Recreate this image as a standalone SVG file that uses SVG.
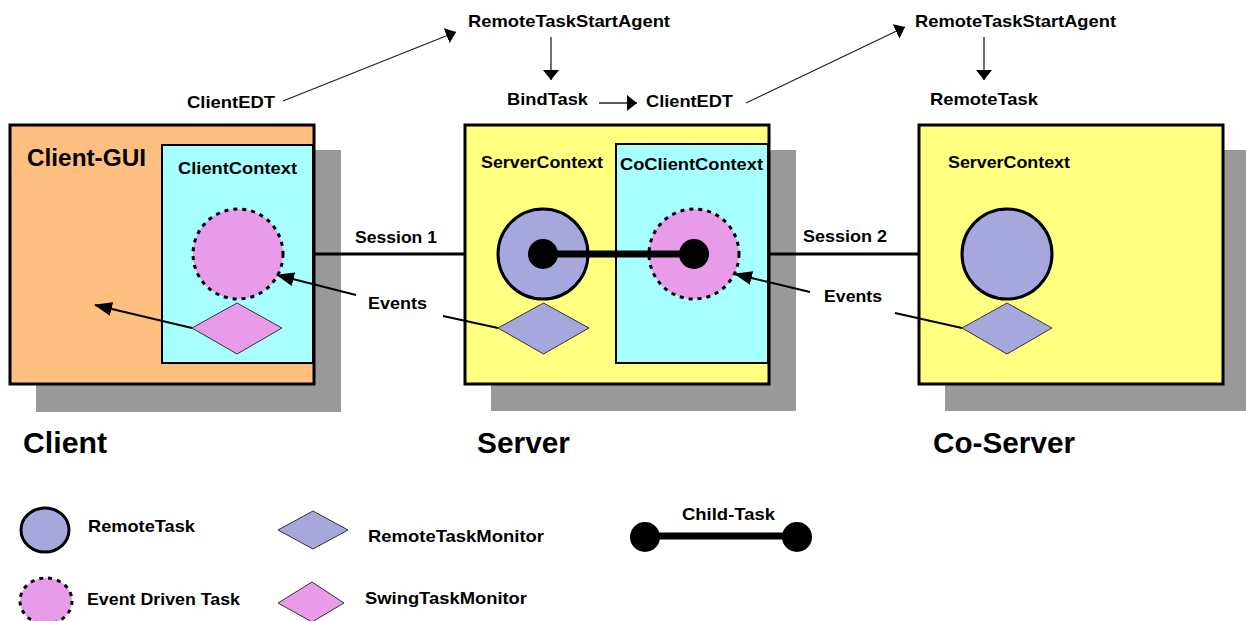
<svg xmlns="http://www.w3.org/2000/svg" width="1246" height="621" viewBox="0 0 1246 621">
<style>
text{font-family:"Liberation Sans",Arial,sans-serif;font-weight:bold;fill:#000;}
.m{font-size:17px;}
.g{font-size:30px;}
.shadow{fill:#999999;}
.box{stroke:#000;stroke-width:3;}
.inner{stroke:#000;stroke-width:2;}
.orange{fill:#FFBF80;}
.cyan{fill:#A8FFFF;}
.yellow{fill:#FFFF80;}
.rt{fill:#A6A8DD;stroke:#000;stroke-width:3;}
.edt{fill:#E89BE9;stroke:#000;stroke-width:3;stroke-dasharray:4 5;}
.rtm{fill:#A6A8DD;stroke:#333;stroke-width:1;}
.stm{fill:#E89BE9;stroke:#333;stroke-width:1;}
.thin{stroke:#222;stroke-width:1.3;fill:none;}
.ev{stroke:#000;stroke-width:2;fill:none;}
.sess{stroke:#000;stroke-width:3;fill:none;}
.child{stroke:#000;stroke-width:7;}
</style>
<defs>
<marker id="big" viewBox="0 0 18 14" refX="17" refY="7" markerWidth="18" markerHeight="14" markerUnits="userSpaceOnUse" orient="auto"><path d="M0,0 L18,7 L0,14 z" fill="#000"/></marker>
<marker id="small" viewBox="0 0 10 16" refX="10" refY="8" markerWidth="10" markerHeight="16" markerUnits="userSpaceOnUse" orient="auto"><path d="M0,0 L10,8 L0,16 z" fill="#000"/></marker>
</defs>

<g id="client">
<rect class="shadow" x="36" y="150" width="305" height="262"/>
<rect class="box orange" x="10" y="125" width="304" height="259"/>
<text x="27" y="166" font-size="24" textLength="119" lengthAdjust="spacingAndGlyphs">Client-GUI</text>
<rect class="inner cyan" x="162" y="145" width="151" height="218"/>
<text class="m" x="178" y="174" textLength="119" lengthAdjust="spacingAndGlyphs">ClientContext</text>
<circle class="edt" cx="238" cy="254" r="45"/>
<polygon class="stm" points="192,328 237,303 282,328 237,354"/>
<text class="g" x="23" y="453" textLength="84" lengthAdjust="spacingAndGlyphs">Client</text>
</g>

<g id="server">
<rect class="shadow" x="491" y="150" width="305" height="261"/>
<rect class="box yellow" x="465" y="125" width="304" height="259"/>
<text class="m" x="481" y="168" textLength="122" lengthAdjust="spacingAndGlyphs">ServerContext</text>
<rect class="inner cyan" x="616" y="144" width="152" height="219"/>
<text class="m" x="620" y="170" textLength="143" lengthAdjust="spacingAndGlyphs">CoClientContext</text>
<circle class="rt" cx="543" cy="254" r="45"/>
<circle class="edt" cx="694" cy="254" r="45"/>
<polygon class="rtm" points="498,328 543.5,303 589,328 543.5,354"/>
<text class="g" x="477" y="453" textLength="93" lengthAdjust="spacingAndGlyphs">Server</text>
</g>

<g id="coserver">
<rect class="shadow" x="945" y="150" width="305" height="261"/>
<rect class="box yellow" x="919" y="125" width="304" height="259"/>
<text class="m" x="948" y="168" textLength="122" lengthAdjust="spacingAndGlyphs">ServerContext</text>
<circle class="rt" cx="1007" cy="254" r="45"/>
<polygon class="rtm" points="962,328 1007,303 1052,328 1007,354"/>
<text class="g" x="933" y="453" textLength="142" lengthAdjust="spacingAndGlyphs">Co-Server</text>
</g>

<g id="labels">
<text class="m" x="187" y="108" textLength="88" lengthAdjust="spacingAndGlyphs">ClientEDT</text>
<text class="m" x="468" y="27" textLength="202" lengthAdjust="spacingAndGlyphs">RemoteTaskStartAgent</text>
<text class="m" x="507" y="105" textLength="81" lengthAdjust="spacingAndGlyphs">BindTask</text>
<text class="m" x="646" y="107" textLength="87" lengthAdjust="spacingAndGlyphs">ClientEDT</text>
<text class="m" x="915" y="27" textLength="201" lengthAdjust="spacingAndGlyphs">RemoteTaskStartAgent</text>
<text class="m" x="930" y="105" textLength="108" lengthAdjust="spacingAndGlyphs">RemoteTask</text>
<text class="m" x="355" y="243" textLength="82" lengthAdjust="spacingAndGlyphs">Session 1</text>
<text class="m" x="803" y="242" textLength="84" lengthAdjust="spacingAndGlyphs">Session 2</text>
<text class="m" x="368" y="309" textLength="59" lengthAdjust="spacingAndGlyphs">Events</text>
<text class="m" x="824" y="302" textLength="58" lengthAdjust="spacingAndGlyphs">Events</text>
</g>

<g id="connectors">
<line class="thin" x1="283" y1="101" x2="456" y2="32" marker-end="url(#small)"/>
<line class="thin" x1="551" y1="37" x2="551" y2="80" marker-end="url(#small)"/>
<line class="thin" x1="599" y1="103" x2="637" y2="103" marker-end="url(#small)"/>
<line class="thin" x1="746" y1="103" x2="905" y2="27" marker-end="url(#small)"/>
<line class="thin" x1="984" y1="37" x2="984" y2="80" marker-end="url(#small)"/>
<line class="sess" x1="314" y1="254" x2="465" y2="254"/>
<line class="sess" x1="769" y1="254" x2="919" y2="254"/>
<line class="child" x1="543" y1="254" x2="694" y2="254"/>
<circle cx="543" cy="254" r="15" fill="#000"/>
<circle cx="694" cy="254" r="15" fill="#000"/>
<line class="ev" x1="356" y1="295" x2="277" y2="275" marker-end="url(#big)"/>
<line class="ev" x1="192" y1="328" x2="95" y2="305" marker-end="url(#big)"/>
<line class="ev" x1="443" y1="316" x2="498" y2="328"/>
<line class="ev" x1="810" y1="292" x2="735" y2="274" marker-end="url(#big)"/>
<line class="ev" x1="895" y1="313" x2="962" y2="328"/>
</g>

<g id="legend">
<ellipse class="rt" cx="45" cy="530" rx="24" ry="22"/>
<text class="m" x="88" y="532" textLength="107" lengthAdjust="spacingAndGlyphs">RemoteTask</text>
<ellipse class="edt" cx="46" cy="601" rx="26" ry="23"/>
<text class="m" x="87" y="605" textLength="153" lengthAdjust="spacingAndGlyphs">Event Driven Task</text>
<polygon class="rtm" points="278,530 313,511 348,530 313,549"/>
<text class="m" x="368" y="542" textLength="176" lengthAdjust="spacingAndGlyphs">RemoteTaskMonitor</text>
<polygon class="stm" points="278,603 312,582 344,603 312,622"/>
<text class="m" x="365" y="604" textLength="162" lengthAdjust="spacingAndGlyphs">SwingTaskMonitor</text>
<line class="child" x1="645" y1="536" x2="797" y2="536"/>
<circle cx="645" cy="537" r="15" fill="#000"/>
<circle cx="797" cy="537" r="15" fill="#000"/>
<text class="m" x="682" y="520" textLength="93" lengthAdjust="spacingAndGlyphs">Child-Task</text>
</g>
</svg>
